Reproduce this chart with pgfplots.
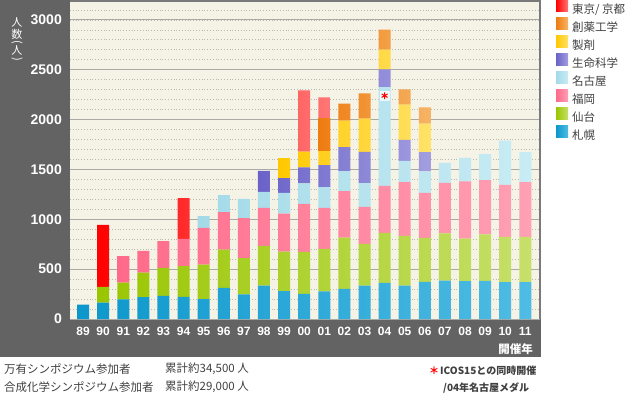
\documentclass[border=0pt]{standalone}
\usepackage{pgfplots}
\pgfplotsset{compat=1.18}
\usepackage{pgfplotstable}
\usepackage{fontspec}
\usepackage{graphicx}
\setmainfont{Liberation Sans}
\newfontfamily\jp{Noto Sans CJK JP}

\definecolor{panel}{HTML}{636363}
\definecolor{plotbg}{HTML}{F5F2E6}
\definecolor{gridmaj}{HTML}{A9A9A6}
\definecolor{gridmin}{HTML}{B8B8B4}
\definecolor{frame}{HTML}{7A7A7A}
\definecolor{txt}{HTML}{404040}
\definecolor{sapL}{HTML}{0C97CC}\definecolor{sapR}{HTML}{4FBCE4}
\definecolor{senL}{HTML}{99C600}\definecolor{senR}{HTML}{C6E06A}
\definecolor{fukL}{HTML}{FF6A8A}\definecolor{fukR}{HTML}{FFA0B4}
\definecolor{nagL}{HTML}{A4DAE8}\definecolor{nagR}{HTML}{C8ECF4}
\definecolor{seiL}{HTML}{6A62C8}\definecolor{seiR}{HTML}{A29EE0}
\definecolor{sezL}{HTML}{FFC800}\definecolor{sezR}{HTML}{FFE268}
\definecolor{souL}{HTML}{EE7C10}\definecolor{souR}{HTML}{F6B466}
\definecolor{tokL}{HTML}{FF0000}\definecolor{tokR}{HTML}{FF7676}

\pgfplotstableread{
x  sap sen fuk nag sei sez sou tok
0  143 0   0   0   0   0   0   0
1  165 158 0   0   0   0   0   620
2  196 170 264 0   0   0   0   0
3  220 246 217 0   0   0   0   0
4  233 280 267 0   0   0   0   0
5  223 307 273 0   0   0   0   410
6  200 346 367 120 0   0   0   0
7  313 383 377 170 0   0   0   0
8  246 364 403 193 0   0   0   0
9  336 397 383 160 210 0   0   0
10 280 396 380 210 147 200 0   0
11 253 420 483 204 160 160 0   613
12 276 427 413 207 220 140 333 207
13 303 513 467 200 240 267 170 0
14 336 417 373 237 313 334 253 0
15 363 500 473 990 177 200 200 0
16 336 497 540 213 210 354 153 0
17 373 440 453 214 193 287 163 0
18 386 474 506 200 0   0   0   0
19 380 426 574 236 0   0   0   0
20 383 467 543 260 0   0   0   0
21 370 453 523 444 0   0   0   0
22 370 453 550 300 0   0   0   0
}\data

\begin{document}
\begin{tikzpicture}[x=1pt,y=1pt]
\path[use as bounding box] (0,0) rectangle (630,397);
\fill[panel] (0,40) rectangle (541,397);

\begin{axis}[
  name=main,
  at={(70pt,78pt)}, anchor=south west,
  width=470pt, height=318pt, scale only axis,
  xmin=-0.65, xmax=22.73, ymin=0, ymax=3190,
  axis background/.style={fill=plotbg},
  axis line style={draw=none},
  ybar stacked, bar width=12pt,
  xtick={0,...,22},
  xticklabels={89,90,91,92,93,94,95,96,97,98,99,00,01,02,03,04,05,06,07,08,09,10,11},
  ytick={0,500,...,3000},
  minor ytick={100,200,...,3100},
  ymajorgrids, yminorgrids,
  major grid style={gridmaj, line width=1pt, solid},
  minor grid style={gridmin, line width=0.8pt, dotted},
  major tick length=0pt, minor tick length=0pt,
  /pgf/number format/assume math mode=true,
  yticklabel style={text=white, font=\bfseries\fontsize{14}{14}\selectfont, inner sep=0pt, anchor=east, xshift=-8pt},
  xticklabel style={text=white, font=\bfseries\fontsize{12}{12}\selectfont, inner sep=0pt, anchor=north, yshift=-8pt},
  scaled y ticks=false,
  yticklabel={\pgfmathprintnumber[fixed,precision=0,1000 sep={}]{\tick}},
  reverse legend,
  legend image code/.code={\path[#1, draw=none] (0pt,-1.6pt) rectangle (12pt,10.4pt);},
  legend style={at={(rel axis cs:1,1)}, anchor=north west, xshift=16pt, yshift=1.2pt,
    draw=none, fill=none, inner sep=0pt, outer sep=0pt,
    font=\jp\fontsize{11.5}{13}\selectfont, text=txt,
    nodes={inner sep=0pt, text height=9pt, text depth=3pt},
    row sep=1.6pt, column sep=4pt, legend cell align=left},
]
\addplot[draw=none, left color=sapL, right color=sapR] table[x=x,y=sap]{\data};
\addlegendentry{札幌}
\addplot[draw=none, left color=senL, right color=senR] table[x=x,y=sen]{\data};
\addlegendentry{仙台}
\addplot[draw=none, left color=fukL, right color=fukR] table[x=x,y=fuk]{\data};
\addlegendentry{福岡}
\addplot[draw=none, left color=nagL, right color=nagR] table[x=x,y=nag]{\data};
\addlegendentry{名古屋}
\addplot[draw=none, left color=seiL, right color=seiR] table[x=x,y=sei]{\data};
\addlegendentry{生命科学}
\addplot[draw=none, left color=sezL, right color=sezR] table[x=x,y=sez]{\data};
\addlegendentry{製剤}
\addplot[draw=none, left color=souL, right color=souR] table[x=x,y=sou]{\data};
\addlegendentry{創薬工学}
\addplot[draw=none, left color=tokL, right color=tokR] table[x=x,y=tok]{\data};
\addlegendentry{東京/ 京都}
\end{axis}

\begin{axis}[
  at={(70pt,78pt)}, anchor=south west,
  width=470pt, height=318pt, scale only axis,
  xmin=-0.65, xmax=22.73, ymin=0, ymax=3190,
  hide axis,
]
\addplot[only marks, mark=square*, mark size=4.5pt, color=white, fill=white, opacity=0.7] coordinates {(15,2240)};
\addplot[only marks, mark=asterisk, mark size=3.4pt, color=red, line width=1pt] coordinates {(15,2240)};
\end{axis}

\draw[frame, line width=1.5pt] (main.north west) -- (main.north east) -- (main.south east);

% vertical y label
\begin{scope}[every node/.style={text=white, inner sep=0pt, font=\jp\fontsize{11}{11}\selectfont}]
\node at (17,374.5) {人};
\node at (17,363) {数};
\node[rotate=-90] at (17,354.5) {(};
\node at (17,346.5) {人};
\node[rotate=-90] at (17,338) {)};
\end{scope}

\node[anchor=east, inner sep=0pt, text=white, font=\jp\bfseries\fontsize{11.5}{12}\selectfont] at (533,48) {開催年};

\begin{scope}[every node/.style={anchor=west, inner sep=0pt, text=txt, font=\jp\fontsize{11.5}{12}\selectfont}]
\node at (4,28) {万有シンポジウム参加者};
\node at (165,28) {累計約34,500 人};
\node at (4,10) {合成化学シンポジウム参加者};
\node at (165,10) {累計約29,000 人};
\end{scope}

\node[anchor=west, inner sep=0pt, text=red, font=\jp\bfseries\fontsize{10}{10}\selectfont] at (429,26.5) {＊};
\node[anchor=west, inner sep=0pt, text=txt, font=\jp\bfseries\fontsize{10}{10}\selectfont] at (440,26.5) {ICOS15との同時開催};
\node[anchor=west, inner sep=0pt, text=txt, font=\jp\bfseries\fontsize{10}{10}\selectfont] at (443,9) {/04年名古屋メダル};
\end{tikzpicture}
\end{document}
